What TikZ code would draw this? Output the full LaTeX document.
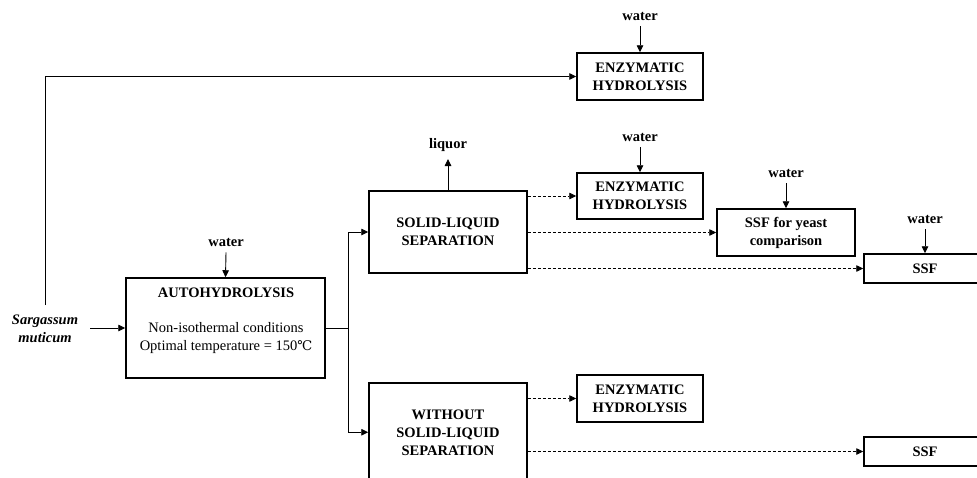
\documentclass[tikz,border=0pt]{standalone}
\usepackage{fontspec}
\setmainfont{Liberation Serif}
\newfontfamily\symfont[Scale=0.92]{DejaVu Serif}
\usetikzlibrary{arrows.meta,calc}
\begin{document}
\begin{tikzpicture}[x=1pt,y=-1pt,
  every node/.style={font=\fontsize{14.5}{18}\selectfont},
  box/.style={draw, line width=1.5pt, inner sep=0pt, align=center, font=\fontsize{14.5}{18}\selectfont\bfseries},
  lbl/.style={inner sep=0pt, align=center, font=\fontsize{14.5}{18}\selectfont\bfseries},
  txt/.style={inner sep=0pt, align=center, font=\fontsize{14.5}{18}\selectfont},
  arr/.style={line width=0.9pt, -{Triangle[length=7pt,width=6.5pt]}},
  darr/.style={line width=0.8pt, dash pattern=on 3pt off 2pt, -{Triangle[length=7pt,width=6.5pt]}},
]
\useasboundingbox (0,0) rectangle (977,477);
\clip (0,0) rectangle (977,477);

% boxes
\node[box, minimum width=126pt, minimum height=47pt] (enz1) at (640,76.5) {ENZYMATIC\\HYDROLYSIS};
\node[box, minimum width=199pt, minimum height=100pt] (auto) at (225.5,328) {};
\node[box, minimum width=158pt, minimum height=82pt] (sl) at (448,232) {SOLID-LIQUID\\SEPARATION};
\node[box, minimum width=126pt, minimum height=46pt] (enz2) at (640,196) {ENZYMATIC\\HYDROLYSIS};
\node[box, minimum width=138pt, minimum height=47pt] (yeast) at (786,232.5) {SSF for yeast\\comparison};
\node[box, minimum width=122pt, minimum height=29pt] (ssf1) at (925,268.5) {SSF};
\node[box, minimum width=158pt, minimum height=130pt] (wo) at (448,448) {};
\node[box, minimum width=126pt, minimum height=47pt] (enz3) at (640,398.5) {ENZYMATIC\\HYDROLYSIS};
\node[box, minimum width=122pt, minimum height=29pt] (ssf2) at (925,451.5) {SSF};

% texts inside open boxes
\node[lbl] (autot) at (226,293) {AUTOHYDROLYSIS};
\node[txt] (autoc) at (226,338) {Non-isothermal conditions\\Optimal temperature = 150{\symfont ℃}};
\node[lbl] (wot) at (448,433) {WITHOUT\\SOLID-LIQUID\\SEPARATION};

% labels
\node[lbl, font=\fontsize{14.5}{18}\selectfont\bfseries\itshape] (sarg) at (45,329) {Sargassum\\muticum};
\node[lbl] (w1) at (640,16) {water};
\node[lbl] (w2) at (640,137) {water};
\node[lbl] (w3) at (786,173) {water};
\node[lbl] (w4) at (925,219) {water};
\node[lbl] (w5) at (226,242) {water};
\node[lbl] (liq) at (448,145) {liquor};

% coordinates
\coordinate (s1) at (45,305);
\coordinate (s2) at (90,328);
\coordinate (br) at (348,328);
\coordinate (lq) at (448,159);

% solid connectors
\draw[arr] (s1) |- (enz1.west);
\draw[arr] (s2) -- (auto.west);
\draw[line width=0.9pt] (auto.east) -- (br);
\draw[arr] (br) |- (sl.west);
\draw[arr] (br) |- ($(wo.north west)+(0,50)$);
\draw[arr] (sl.north) -- (lq);
\draw[arr] ($(w1.south)+(0,6)$) -- (enz1.north);
\draw[arr] ($(w2.south)+(0,6)$) -- (enz2.north);
\draw[arr] ($(w3.south)+(0,6)$) -- (yeast.north);
\draw[arr] ($(w4.south)+(0,6)$) -- (ssf1.north);
\draw[arr] ($(w5.south)+(0,6)$) -- (auto.north);

% dashed connectors
\draw[darr] (sl.east |- enz2.west) -- (enz2.west);
\draw[darr] (sl.east |- yeast.west) -- (yeast.west);
\draw[darr] (sl.east |- ssf1.west) -- (ssf1.west);
\draw[darr] (wo.east |- enz3.west) -- (enz3.west);
\draw[darr] (wo.east |- ssf2.west) -- (ssf2.west);
\end{tikzpicture}
\end{document}
